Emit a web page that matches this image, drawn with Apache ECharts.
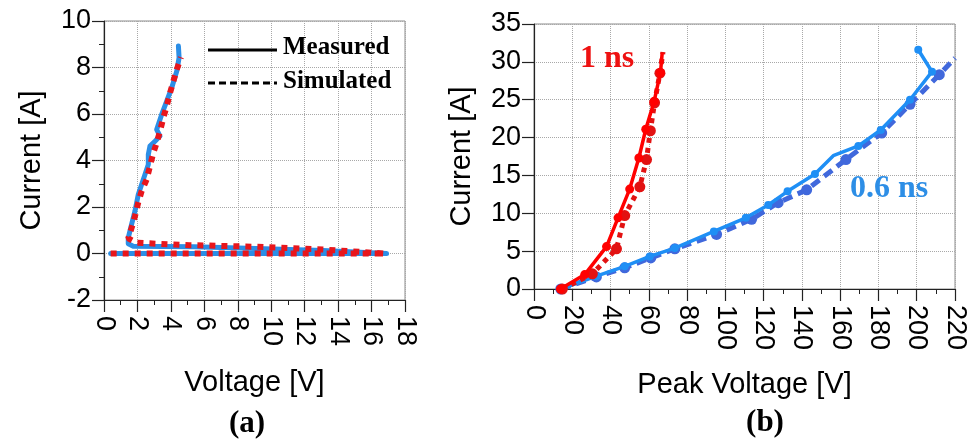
<!DOCTYPE html>
<html>
<head>
<meta charset="utf-8">
<script src="https://cdn.jsdelivr.net/npm/echarts@6/dist/echarts.min.js"></script>
<style>
  html, body { margin: 0; padding: 0; background: #fff; }
  #chart { width: 970px; height: 447px; }
</style>
</head>
<body>
<div id="chart"></div>
<script>
// ---- (a) I-V loop, voltage [V] / current [A] ----
const aMeasuredV = [0.4, 16.9, 16.9, 13.1, 9.1, 5.4, 1.75, 1.45, 1.45, 1.65, 1.85, 2.05, 2.25, 2.45, 2.65, 2.65, 2.75, 3.05, 3.35, 3.15, 3.45, 3.75, 4.05, 4.35, 4.49, 4.45];
const aMeasuredI = [0, 0, 0.03, 0.13, 0.22, 0.29, 0.31, 0.42, 0.67, 1.25, 1.82, 2.54, 2.97, 3.40, 3.83, 4.26, 4.62, 4.83, 5.05, 5.33, 5.98, 6.55, 7.13, 7.84, 8.42, 8.92];
const aSimulatedV = [0.4, 16.8, 16.7, 13.1, 9.1, 5.1, 1.95, 1.45, 1.65, 1.85, 2.05, 2.25, 2.55, 2.75, 2.95, 3.15, 3.35, 3.55, 3.75, 3.95, 4.15, 4.35, 4.6];
const aSimulatedI = [0, 0, 0.07, 0.17, 0.29, 0.36, 0.46, 0.65, 1.1, 1.6, 2.2, 2.68, 3.18, 3.76, 4.33, 4.76, 5.26, 5.84, 6.34, 6.91, 7.41, 7.91, 8.44];

// ---- (b) current vs peak voltage for two pulse widths ----
const bRed1nsMeasV = [13.8, 26.5, 37.9, 43.9, 50.0, 54.8, 58.4, 62.8, 66.1, 67.0];
const bRed1nsMeasI = [0, 1.9, 5.6, 9.4, 13.2, 17.3, 21.1, 24.8, 28.6, 31.2];
const bRed1nsMeasMark = [1, 1, 1, 1, 1, 1, 1, 1, 1, 0];
const bRed1nsSimV = [14.8, 30.5, 43.1, 47.4, 55.3, 58.8, 60.8, 63.0, 65.8, 67.4];
const bRed1nsSimI = [0, 2.0, 5.3, 9.7, 13.5, 17.1, 20.9, 24.6, 28.5, 31.3];
const bRed1nsSimMark = [1, 1, 1, 1, 1, 1, 1, 1, 1, 0];
const bBlue06nsMeasV = [14.0, 32.6, 47.4, 60.5, 73.6, 94.0, 110.7, 122.4, 132.5, 146.8, 156.4, 169.5, 181.2, 196.5, 208.0, 200.8];
const bBlue06nsMeasI = [0, 1.7, 3.0, 4.3, 5.4, 7.6, 9.4, 11.1, 12.9, 15.2, 17.6, 18.9, 21.0, 25.0, 28.7, 31.6];
const bBlue06nsMeasMark = [1, 1, 1, 1, 1, 1, 1, 1, 1, 1, 0, 1, 1, 1, 1, 1];
const bBlue06nsSimV = [14.0, 32.6, 47.4, 61.0, 73.6, 95.4, 113.7, 127.6, 142.5, 163.0, 181.7, 196.5, 211.8, 220];
const bBlue06nsSimI = [0, 1.6, 2.8, 4.1, 5.3, 7.2, 9.2, 11.4, 13.1, 17.1, 20.6, 24.4, 28.3, 30.5];
const bBlue06nsSimMark = [1, 1, 1, 1, 1, 1, 1, 1, 1, 1, 1, 1, 1, 0];

const SANS = "'Liberation Sans', Arial, sans-serif";
const SERIF = "'Liberation Serif', 'Times New Roman', serif";

function pairs(xs, ys) {
  return xs.map((x, i) => [x, ys[i]]);
}
function marked(xs, ys, flags) {
  return xs.map((x, i) => ({ value: [x, ys[i]], symbol: flags[i] ? 'circle' : 'none' }));
}

function valueAxis(gridIndex, min, max, interval, opts) {
  return Object.assign({
    type: 'value',
    gridIndex: gridIndex,
    min: min,
    max: max,
    interval: interval,
    nameLocation: 'middle',
    nameTextStyle: { fontFamily: SANS, fontSize: 29, color: '#000' },
    axisLine: { show: true, onZero: false, lineStyle: { color: '#222', width: 1.2 } },
    axisTick: { show: true, length: 12, lineStyle: { color: '#222', width: 1.2 } },
    axisLabel: { fontFamily: SANS, fontSize: 27, color: '#000', margin: 13 },
    splitLine: { show: true, lineStyle: { color: '#a8a8a8', type: 'dotted', width: 1 } }
  }, opts);
}

const chart = echarts.init(document.getElementById('chart'), null, { renderer: 'canvas' });

chart.setOption({
  animation: false,
  backgroundColor: '#fff',
  grid: [
    { left: 104, top: 21, width: 301, height: 279, show: true, borderColor: '#8c8c8c', borderWidth: 1, outerBoundsMode: 'none' },
    { left: 534, top: 24, width: 421, height: 265, show: true, borderColor: '#8c8c8c', borderWidth: 1, outerBoundsMode: 'none' }
  ],
  xAxis: [
    valueAxis(0, 0, 18, 2, {
      name: 'Voltage [V]', nameGap: 68,
      minorTick: { show: true, splitNumber: 2, length: 5, lineStyle: { color: '#222' } },
      axisLabel: { fontFamily: SANS, fontSize: 27, color: '#000', rotate: -90, margin: 16 }
    }),
    valueAxis(1, 0, 220, 20, {
      name: 'Peak Voltage [V]', nameGap: 81,
      minorTick: { show: true, splitNumber: 2, length: 5, lineStyle: { color: '#222' } },
      axisLabel: { fontFamily: SANS, fontSize: 27, color: '#000', rotate: -90, margin: 16 }
    })
  ],
  yAxis: [
    valueAxis(0, -2, 10, 2, {
      name: 'Current [A]', nameGap: 58,
      minorTick: { show: true, splitNumber: 2, length: 5, lineStyle: { color: '#222' } }
    }),
    valueAxis(1, 0, 35, 5, {
      name: 'Current [A]', nameGap: 58
    })
  ],
  series: [
    // (a) measured loop
    {
      type: 'line', xAxisIndex: 0, yAxisIndex: 0, showSymbol: false, z: 2,
      data: pairs(aMeasuredV, aMeasuredI),
      lineStyle: { color: '#2b8ee6', width: 5, join: 'round', cap: 'round' }
    },
    // (a) simulated loop
    {
      type: 'line', xAxisIndex: 0, yAxisIndex: 0, showSymbol: false, z: 3,
      data: pairs(aSimulatedV, aSimulatedI),
      lineStyle: { color: '#e8161c', width: 6, type: [6, 6], cap: 'butt' }
    },
    // (b) 0.6 ns simulated
    {
      type: 'line', xAxisIndex: 1, yAxisIndex: 1, symbolSize: 11, z: 2,
      data: marked(bBlue06nsSimV, bBlue06nsSimI, bBlue06nsSimMark),
      itemStyle: { color: '#4068dc' },
      lineStyle: { color: '#4068dc', width: 5, type: [10, 6] }
    },
    // (b) 0.6 ns measured
    {
      type: 'line', xAxisIndex: 1, yAxisIndex: 1, symbolSize: 8, z: 3,
      data: marked(bBlue06nsMeasV, bBlue06nsMeasI, bBlue06nsMeasMark),
      itemStyle: { color: '#1f8ff5' },
      lineStyle: { color: '#1f8ff5', width: 3.5 }
    },
    // (b) 1 ns simulated
    {
      type: 'line', xAxisIndex: 1, yAxisIndex: 1, symbolSize: 11, z: 4,
      data: marked(bRed1nsSimV, bRed1nsSimI, bRed1nsSimMark),
      itemStyle: { color: '#e21212' },
      lineStyle: { color: '#e21212', width: 5, type: [5, 5] }
    },
    // (b) 1 ns measured
    {
      type: 'line', xAxisIndex: 1, yAxisIndex: 1, symbolSize: 9, z: 5,
      data: marked(bRed1nsMeasV, bRed1nsMeasI, bRed1nsMeasMark),
      itemStyle: { color: '#ff0000' },
      lineStyle: { color: '#ff0000', width: 3.5 }
    }
  ],
  graphic: [
    // line-style key for (a)
    { type: 'line', shape: { x1: 208, y1: 50, x2: 277, y2: 50 }, style: { stroke: '#000', lineWidth: 3 }, z: 10 },
    { type: 'line', shape: { x1: 208, y1: 83, x2: 277, y2: 83 }, style: { stroke: '#000', lineWidth: 3, lineDash: [7, 4] }, z: 10 },
    { type: 'text', x: 283, y: 48, style: { text: 'Measured', font: 'bold 25px ' + SERIF, fill: '#000', verticalAlign: 'middle' }, z: 10 },
    { type: 'text', x: 283, y: 82, style: { text: 'Simulated', font: 'bold 25px ' + SERIF, fill: '#000', verticalAlign: 'middle' }, z: 10 },
    // curve tags for (b)
    { type: 'text', x: 580, y: 59, style: { text: '1 ns', font: 'bold 32px ' + SERIF, fill: '#ee1111', verticalAlign: 'middle' }, z: 10 },
    { type: 'text', x: 850, y: 189, style: { text: '0.6 ns', font: 'bold 32px ' + SERIF, fill: '#2d8ee6', verticalAlign: 'middle' }, z: 10 },
    // panel captions
    { type: 'text', x: 247, y: 424, style: { text: '(a)', font: 'bold 31px ' + SERIF, fill: '#000', align: 'center', verticalAlign: 'middle' } },
    { type: 'text', x: 765, y: 423, style: { text: '(b)', font: 'bold 31px ' + SERIF, fill: '#000', align: 'center', verticalAlign: 'middle' } }
  ]
});
</script>
</body>
</html>
